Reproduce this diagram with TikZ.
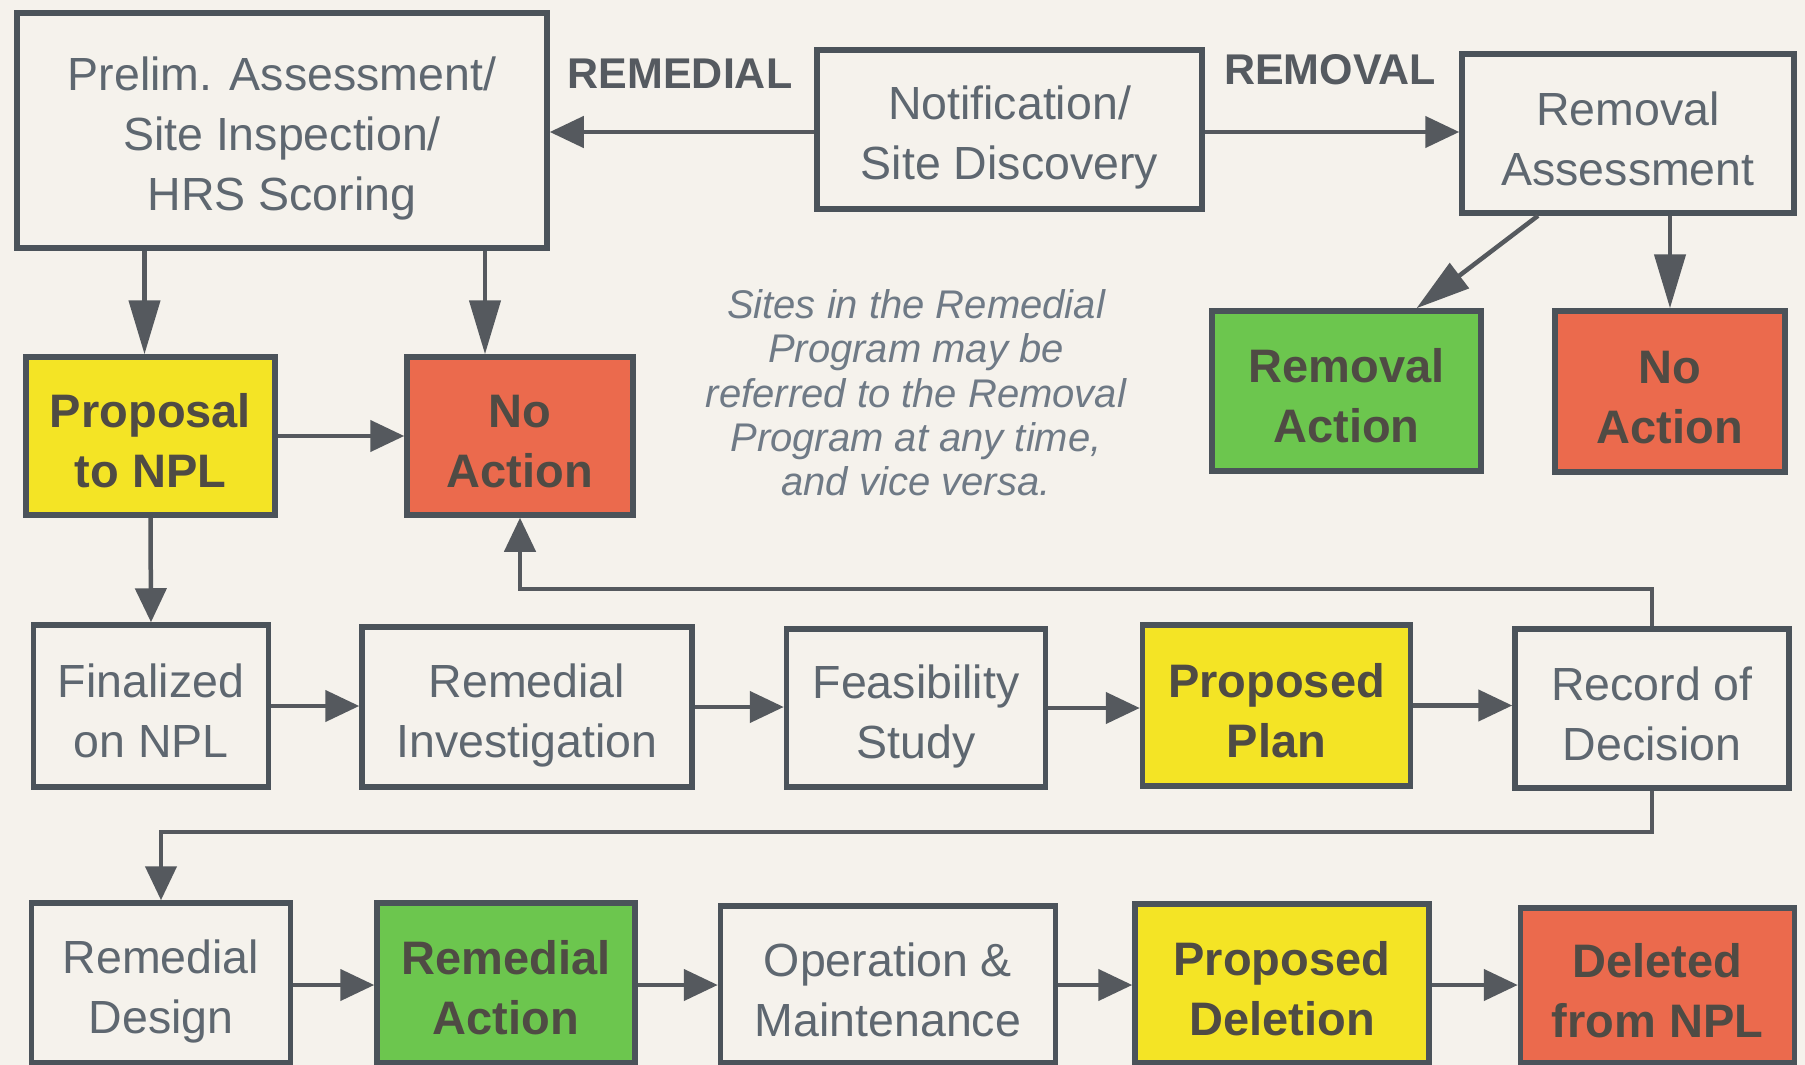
\documentclass[tikz,border=0pt]{standalone}
\usepackage{fontspec}
\setmainfont{Liberation Sans}
\usetikzlibrary{arrows.meta,calc}
\definecolor{bg}{HTML}{F5F2EC}
\definecolor{bordc}{HTML}{4B535A}
\definecolor{linec}{HTML}{55595E}
\definecolor{txtc}{HTML}{5E6770}
\definecolor{btxt}{HTML}{4F4B44}
\definecolor{labc}{HTML}{555A60}
\definecolor{notec}{HTML}{6F7A86}
\definecolor{yel}{HTML}{F4E425}
\definecolor{redc}{HTML}{EB6A4D}
\definecolor{grn}{HTML}{6CC64E}
\newcommand\TopS{\rule{0pt}{50pt}}
\newcommand\BotS{\rule[-6.8pt]{0pt}{6.8pt}}
\begin{document}
\begin{tikzpicture}[x=1pt,y=-1pt,
  box/.style={draw=bordc, line width=5.5pt, fill=bg, inner sep=0pt, align=center,
    font=\fontsize{46.5}{60}\selectfont, text=txtc},
  bbox/.style={box, font=\fontsize{47}{60}\selectfont\bfseries, text=btxt},
  conn/.style={draw=linec, line width=4.5pt},
  arr/.style={conn, -{Triangle[length=34pt,width=31pt]}},
  arrL/.style={conn, -{Triangle[length=54pt,width=31pt]}},
  lab/.style={font=\fontsize{43}{50}\selectfont\bfseries, text=labc, inner sep=0pt},
  note/.style={font=\fontsize{40}{44.3}\selectfont\itshape, text=notec, align=center, inner sep=0pt},
]
\useasboundingbox (0,0) rectangle (1805,1065);
\fill[bg] (0,0) rectangle (1805,1065);
\clip (0,0) rectangle (1805,1065);

% top row
\node[box, minimum width=530pt, minimum height=235pt] (prelim) at (282,130.5)
  {\TopS Prelim. Assessment/\\Site Inspection/\\HRS Scoring\BotS};
\node[box, minimum width=385pt, minimum height=159pt] (notif) at (1009.5,129.5)
  {\TopS Notification/\\Site Discovery\BotS};
\node[box, minimum width=332pt, minimum height=159pt] (remass) at (1628,133.5)
  {\TopS Removal\\Assessment\BotS};
\node[lab] (lremed) at (680,74) {REMEDIAL};
\node[lab] (lremov) at (1330,70) {REMOVAL};

% second row
\node[bbox, fill=yel, minimum width=249pt, minimum height=158pt] (proposal) at (150.5,436)
  {\TopS Proposal\\to NPL\BotS};
\node[bbox, fill=redc, minimum width=226pt, minimum height=158pt] (noact1) at (520,436)
  {\TopS No\\Action\BotS};
\node[bbox, fill=grn, minimum width=269pt, minimum height=160pt] (remact) at (1346.5,391)
  {\TopS Removal\\Action\BotS};
\node[bbox, fill=redc, minimum width=230pt, minimum height=161pt] (noact2) at (1670,391.5)
  {\TopS No\\Action\BotS};
\node[note] (note) at (916,393)
  {Sites in the Remedial\\Program may be\\referred to the Removal\\Program at any time,\\and vice versa.};

% third row
\node[box, minimum width=235pt, minimum height=162pt] (final) at (151,706)
  {\TopS Finalized\\on NPL\BotS};
\node[box, minimum width=330pt, minimum height=160pt] (ri) at (527,707)
  {\TopS Remedial\\Investigation\BotS};
\node[box, minimum width=259pt, minimum height=158pt] (fs) at (916,708)
  {\TopS Feasibility\\Study\BotS};
\node[bbox, fill=yel, minimum width=268pt, minimum height=161pt] (pp) at (1276.5,705.5)
  {\TopS Proposed\\Plan\BotS};
\node[box, minimum width=274pt, minimum height=159pt] (rod) at (1652,708.5)
  {\TopS Record of\\Decision\BotS};

% bottom row
\node[box, minimum width=259pt, minimum height=160pt] (rd) at (161,983)
  {\TopS Remedial\\Design\BotS};
\node[bbox, fill=grn, minimum width=258pt, minimum height=160pt] (ract) at (506,983)
  {\TopS Remedial\\Action\BotS};
\node[box, minimum width=335pt, minimum height=157pt] (om) at (888,984.5)
  {\TopS Operation \&\\Maintenance\BotS};
\node[bbox, fill=yel, minimum width=294pt, minimum height=159pt] (pd) at (1282,983.5)
  {\TopS Proposed\\Deletion\BotS};
\node[bbox, fill=redc, minimum width=274pt, minimum height=155pt] (del) at (1657.5,985.5)
  {\TopS Deleted\\from NPL\BotS};

% connectors top
\draw[arr] (notif.west |- 0,132) -- (prelim.east |- 0,132);
\draw[arr] (notif.east |- 0,132) -- (remass.west |- 0,132);
\coordinate (c1) at ([xshift=-6pt]proposal.north);
\draw[arrL] (prelim.south -| c1) -- (c1);
\coordinate (c2) at ([xshift=-35pt]noact1.north);
\draw[arrL] (prelim.south -| c2) -- (c2);
\draw[arr] (proposal.east) -- (noact1.west);
\draw[arrL] ([xshift=-90pt]remass.south) -- ([xshift=70pt]remact.north);
\draw[arrL] (remass.south -| noact2.north) -- (noact2.north);

% connectors middle
\draw[arr] (proposal.south) -- (final.north);
\draw[arr] (final.east) -- (final.east -| ri.west);
\draw[arr] (ri.east) -- (ri.east -| fs.west);
\draw[arr] (fs.east) -- (fs.east -| pp.west);
\draw[arr] (pp.east) -- (pp.east -| rod.west);
\draw[arr] (rod.north) -- (rod.north |- 0,589) -| (noact1.south);
\draw[arr] (rod.south) -- (rod.south |- 0,832) -| (rd.north);

% connectors bottom
\draw[arr] (rd.east |- 0,985) -- (ract.west |- 0,985);
\draw[arr] (ract.east |- 0,985) -- (om.west |- 0,985);
\draw[arr] (om.east |- 0,985) -- (pd.west |- 0,985);
\draw[arr] (pd.east |- 0,985) -- (del.west |- 0,985);
\end{tikzpicture}
\end{document}
